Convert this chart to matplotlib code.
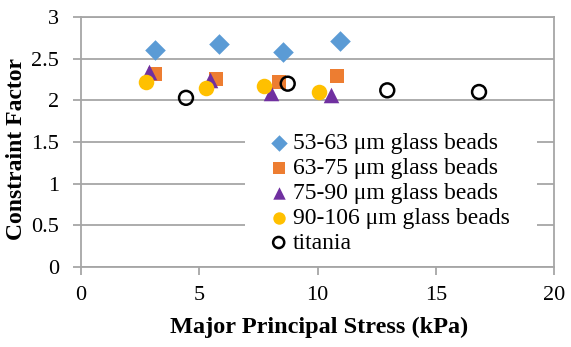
import matplotlib
matplotlib.use("Agg")
import matplotlib.pyplot as plt
from matplotlib.patches import Rectangle

plt.rcParams['font.family'] = ['Liberation Serif', 'DejaVu Serif']

x_53 = [3.13, 5.82, 8.53, 10.95]
y_53 = [2.61, 2.68, 2.58, 2.71]
x_63 = [3.13, 5.69, 8.39, 10.84]
y_63 = [2.32, 2.26, 2.22, 2.29]
x_75 = [2.89, 5.45, 8.02, 10.56]
y_75 = [2.34, 2.24, 2.09, 2.06]
x_90 = [2.75, 5.27, 7.72, 10.08]
y_90 = [2.22, 2.15, 2.17, 2.10]
x_ti = [4.44, 8.74, 12.95, 16.83]
y_ti = [2.03, 2.20, 2.12, 2.10]

labels = ["53-63 μm glass beads", "63-75 μm glass beads", "75-90 μm glass beads",
          "90-106 μm glass beads", "titania"]

fig = plt.figure(figsize=(5.71, 3.47), dpi=100)
ax = fig.add_axes([81/571, 1-267/347, (554-81)/571, (267-17)/347])

ax.scatter(x_53, y_53, marker='D', s=110, color='#5B9BD5', label=labels[0], zorder=3, linewidths=0)
ax.scatter(x_63, y_63, marker='s', s=115, color='#ED7D31', label=labels[1], zorder=3, linewidths=0)
ax.scatter(x_75, y_75, marker='^', s=125, color='#7030A0', label=labels[2], zorder=3, linewidths=0)
ax.scatter(x_90, y_90, marker='o', s=125, color='#FFC000', label=labels[3], zorder=3, linewidths=0)
ax.scatter(x_ti, y_ti, marker='o', s=100, facecolor='none', edgecolor='black', linewidths=1.8,
           label=labels[4], zorder=3)

ax.set_xlim(0, 20)
ax.set_ylim(0, 3)
ax.set_xticks([0, 5, 10, 15, 20])
ax.set_yticks([0, 0.5, 1, 1.5, 2, 2.5, 3])
ax.set_yticklabels(['0', '0.5', '1', '1.5', '2', '2.5', '3'])
ax.yaxis.grid(True, color='#A6A6A6', linewidth=1.3, zorder=0)
ax.set_axisbelow(True)
for s in ax.spines.values():
    s.set_color('#A6A6A6')
    s.set_linewidth(1.3)
ax.tick_params(axis='both', colors='#A6A6A6', labelcolor='black', labelsize=16, width=1.3, length=6)
ax.tick_params(axis='y', pad=10)
ax.tick_params(axis='x', pad=8)

# white background behind the legend (covers gridlines)
ax.add_patch(Rectangle((0.347, 0.04), 0.617, 0.55, transform=ax.transAxes,
                       facecolor='white', edgecolor='none', zorder=1))

ax.set_xlabel("Major Principal Stress (kPa)", fontsize=17.5, fontweight='bold')
ax.xaxis.set_label_coords(0.503, -0.20)
ax.set_ylabel("Constraint Factor", fontsize=17, fontweight='bold')
ax.yaxis.set_label_coords(-0.114, 0.474)

leg = ax.legend(loc='upper left', bbox_to_anchor=(0.378, 0.565), frameon=False, fontsize=17,
                handletextpad=0.1, borderpad=0.3, labelspacing=0.14, handlelength=1.0,
                markerscale=0.8, borderaxespad=0)

fig.savefig("out.png", dpi=100)
